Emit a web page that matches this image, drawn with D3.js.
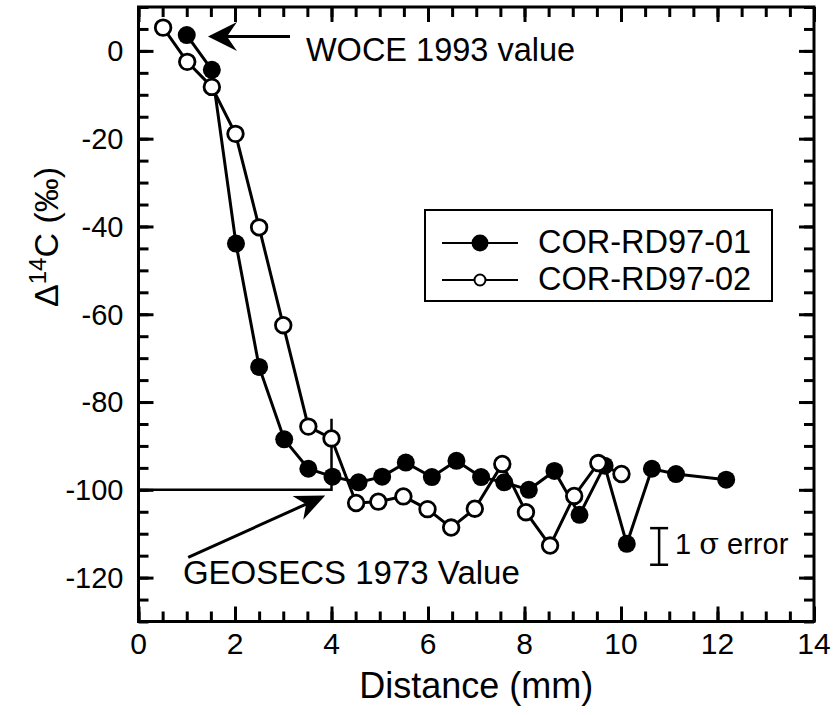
<!DOCTYPE html>
<html>
<head>
<meta charset="utf-8">
<script src="https://cdn.jsdelivr.net/npm/d3@7"></script>
<style>
  body { margin: 0; background: #fff; }
  text { font-family: "Liberation Sans", Arial, Helvetica, sans-serif; fill: #000; }
</style>
</head>
<body>
<script>
// COR-RD97-01 (filled)
var dist01 = [1.0, 1.52, 2.02, 2.5, 3.02, 3.52, 4.02, 4.56, 5.05, 5.54, 6.08, 6.59, 7.1, 7.58, 8.09, 8.62, 9.14, 9.66, 10.12, 10.64, 11.14, 12.18];
var d14c01 = [3.6, -4.3, -43.9, -72.0, -88.5, -95.2, -97.0, -98.3, -97.0, -93.8, -97.1, -93.4, -97.1, -98.3, -100.0, -95.7, -105.7, -94.5, -112.3, -95.2, -96.4, -97.7];
// COR-RD97-02 (open)
var dist02 = [0.51, 1.01, 1.52, 2.01, 2.5, 3.0, 3.52, 4.0, 4.51, 4.97, 5.49, 5.99, 6.48, 6.97, 7.54, 8.03, 8.53, 9.03, 9.53, 10.01];
var d14c02 = [5.3, -2.5, -8.2, -18.9, -40.2, -62.5, -85.6, -88.3, -103.0, -102.7, -101.5, -104.4, -108.6, -104.3, -94.1, -105.1, -112.7, -101.4, -93.9, -96.4];

var xTicks = [0, 2, 4, 6, 8, 10, 12, 14];
var yTicks = [0, -20, -40, -60, -80, -100, -120];
var seriesNames = ["COR-RD97-01", "COR-RD97-02"];

var w = 833, h = 715;
var margin = {left: 138.5, right: 19, top: 7, bottom: 93.5};

var svg = d3.select('body').append('svg')
  .attr('width', w)
  .attr('height', h);

var xScale = d3.scaleLinear().domain([0, 14]).range([margin.left, w - margin.right]);
var yScale = d3.scaleLinear().domain([-130, 10]).range([h - margin.bottom, margin.top]);

var x0 = xScale(0), x1 = xScale(14), y0 = yScale(-130), y1 = yScale(10);
var minorX = d3.range(0, 14.01, 0.5);
var minorY = d3.range(-130, 10.01, 5);

// ticks, all pointing inward
function tickAxis(axis, tr, size, vals) {
  var g = svg.append('g')
    .attr('transform', tr)
    .call(axis.tickValues(vals).tickSize(size).tickFormat(''));
  g.select('.domain').remove();
  g.selectAll('line').attr('stroke', '#000').attr('stroke-width', 3);
  return g;
}
tickAxis(d3.axisBottom(xScale), 'translate(0,' + y0 + ')', -10, minorX);
tickAxis(d3.axisBottom(xScale), 'translate(0,' + y0 + ')', -15, xTicks);
tickAxis(d3.axisTop(xScale), 'translate(0,' + y1 + ')', -10, minorX);
tickAxis(d3.axisTop(xScale), 'translate(0,' + y1 + ')', -15, xTicks);
tickAxis(d3.axisLeft(yScale), 'translate(' + x0 + ',0)', -10, minorY);
tickAxis(d3.axisLeft(yScale), 'translate(' + x0 + ',0)', -15, yTicks);
tickAxis(d3.axisRight(yScale), 'translate(' + x1 + ',0)', -10, minorY);
tickAxis(d3.axisRight(yScale), 'translate(' + x1 + ',0)', -15, yTicks);

svg.append('rect')
  .attr('x', x0).attr('y', y1)
  .attr('width', x1 - x0).attr('height', y0 - y1)
  .attr('fill', 'none').attr('stroke', '#000').attr('stroke-width', 3);

// tick labels
svg.selectAll('.xlab').data(xTicks).enter().append('text')
  .attr('class', 'xlab')
  .attr('x', d => xScale(d))
  .attr('y', y0 + 32)
  .attr('text-anchor', 'middle')
  .style('font-size', '30px')
  .text(d => d);

svg.selectAll('.ylab').data(yTicks).enter().append('text')
  .attr('class', 'ylab')
  .attr('x', x0 - 15)
  .attr('y', d => yScale(d))
  .attr('dy', '0.36em')
  .attr('text-anchor', 'end')
  .style('font-size', '29px')
  .text(d => d);

// axis titles
svg.append('text')
  .attr('x', (x0 + x1) / 2)
  .attr('y', 698)
  .attr('text-anchor', 'middle')
  .style('font-size', '36px')
  .text('Distance (mm)');

var yt = svg.append('text')
  .attr('transform', 'translate(58,237)rotate(-90)')
  .attr('text-anchor', 'middle')
  .style('font-size', '34px');
yt.append('tspan').text('\u0394');
yt.append('tspan').attr('dy', -12).style('font-size', '24px').text('14');
yt.append('tspan').attr('dy', 12).text('C (\u2030)');

// annotations
function arrow(xa, ya, xb, yb, len, half, notch) {
  // line from a to tip b with barbed head
  var ax = xScale(xa), ay = yScale(ya), bx = xScale(xb), by = yScale(yb);
  var dx = bx - ax, dy = by - ay, L = Math.sqrt(dx * dx + dy * dy);
  var ux = dx / L, uy = dy / L, px = -uy, py = ux;
  var bk = [bx - ux * len, by - uy * len];
  var nt = [bx - ux * (len - notch), by - uy * (len - notch)];
  svg.append('line')
    .attr('x1', ax).attr('y1', ay).attr('x2', nt[0]).attr('y2', nt[1])
    .attr('stroke', '#000').attr('stroke-width', 3);
  svg.append('path')
    .attr('d', 'M' + bx + ',' + by +
      'L' + (bk[0] + px * half) + ',' + (bk[1] + py * half) +
      'L' + nt[0] + ',' + nt[1] +
      'L' + (bk[0] - px * half) + ',' + (bk[1] - py * half) + 'Z')
    .attr('fill', '#000');
}

arrow(3.14, 3.3, 1.44, 3.3, 29, 14.5, 10);
svg.append('text')
  .attr('x', xScale(3.47)).attr('y', yScale(-2.2))
  .style('font-size', '32.5px')
  .text('WOCE 1993 value');

svg.append('polyline')
  .attr('points', [[0, -100], [4.0, -100], [4.0, -83.8]].map(p => xScale(p[0]) + ',' + yScale(p[1])).join(' '))
  .attr('fill', 'none').attr('stroke', '#000').attr('stroke-width', 2.5);
arrow(1.03, -115.4, 3.87, -101.3, 30, 13, 9);
svg.append('text')
  .attr('x', xScale(0.92)).attr('y', yScale(-121.5))
  .style('font-size', '33px')
  .text('GEOSECS 1973 Value');

// 1 sigma error bar
var eb = svg.append('g').attr('stroke', '#000').attr('stroke-width', 2.5);
eb.append('line').attr('x1', xScale(10.79)).attr('x2', xScale(10.79))
  .attr('y1', yScale(-112.9 + 4.17)).attr('y2', yScale(-112.9 - 4.17));
[4.17, -4.17].forEach(e => {
  eb.append('line').attr('x1', xScale(10.79) - 9).attr('x2', xScale(10.79) + 9)
    .attr('y1', yScale(-112.9 + e)).attr('y2', yScale(-112.9 + e));
});
var et = svg.append('text')
  .attr('x', xScale(11.12)).attr('y', yScale(-114.7))
  .style('font-size', '29px');
et.append('tspan').text('1 ');
et.append('tspan').style('font-family', '"DejaVu Serif", serif').text('\u03c3');
et.append('tspan').text(' error');

// series
var line = d3.line().x(d => xScale(d[0])).y(d => yScale(d[1]));
var s1 = dist01.map((d, i) => [d, d14c01[i]]);
var s2 = dist02.map((d, i) => [d, d14c02[i]]);

svg.append('path').datum(s1).attr('d', line)
  .attr('fill', 'none').attr('stroke', '#000').attr('stroke-width', 3);
svg.selectAll('.dot1').data(s1).enter().append('circle')
  .attr('class', 'dot1')
  .attr('cx', d => xScale(d[0])).attr('cy', d => yScale(d[1]))
  .attr('r', 9).attr('fill', '#000');

svg.append('path').datum(s2).attr('d', line)
  .attr('fill', 'none').attr('stroke', '#000').attr('stroke-width', 3);
svg.selectAll('.dot2').data(s2).enter().append('circle')
  .attr('class', 'dot2')
  .attr('cx', d => xScale(d[0])).attr('cy', d => yScale(d[1]))
  .attr('r', 7.8).attr('fill', '#fff').attr('stroke', '#000').attr('stroke-width', 2.8);

// legend
var legend = svg.append('g').attr('transform', 'translate(425,210)');
legend.append('rect')
  .attr('width', 347).attr('height', 91)
  .attr('fill', '#fff').attr('stroke', '#000').attr('stroke-width', 2);
seriesNames.forEach((name, i) => {
  var yy = 33 + i * 37;
  legend.append('line').attr('x1', 17).attr('x2', 93).attr('y1', yy).attr('y2', yy)
    .attr('stroke', '#000').attr('stroke-width', 2.2);
  legend.append('circle').attr('cx', 55).attr('cy', yy)
    .attr('r', i === 0 ? 8.5 : 5.5)
    .attr('fill', i === 0 ? '#000' : '#fff')
    .attr('stroke', '#000').attr('stroke-width', i === 0 ? 0 : 2);
  legend.append('text').attr('x', 113).attr('y', yy + 10)
    .style('font-size', '32.5px')
    .text(name);
});
</script>
</body>
</html>
